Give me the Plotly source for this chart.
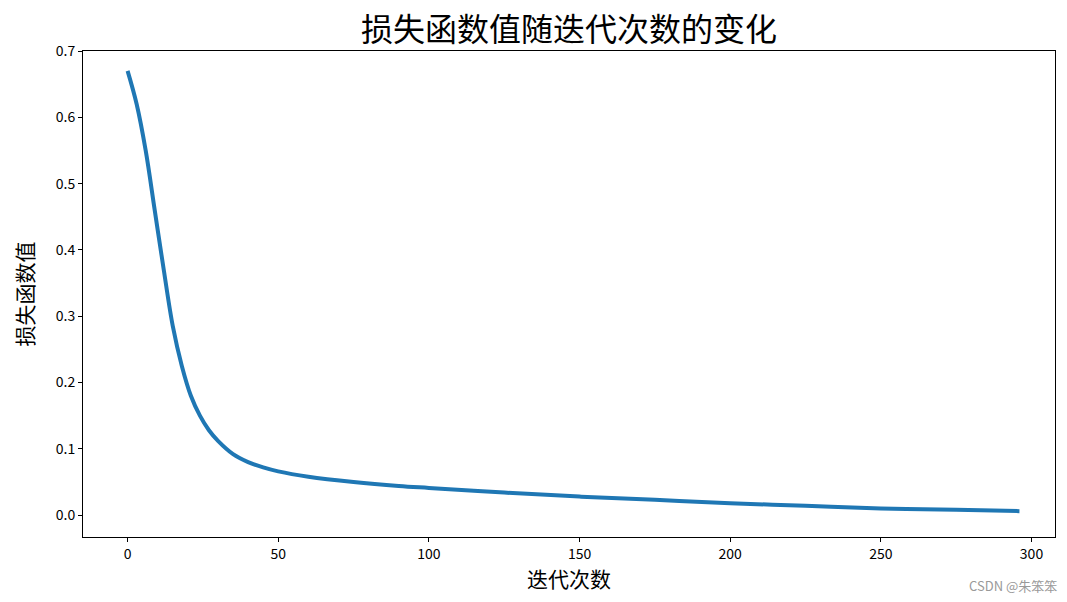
import plotly.graph_objects as go

# 迭代次数与损失函数值
iters = [0, 3, 6, 9, 12, 15, 18, 21, 24, 27, 30, 35, 40, 45, 50, 60, 75, 90, 100, 125, 150, 175, 200, 225, 250, 275, 296]
loss = [0.670, 0.620, 0.550, 0.460, 0.370, 0.285, 0.225, 0.180, 0.150, 0.128, 0.112, 0.092, 0.080, 0.072, 0.066, 0.058, 0.050, 0.044, 0.041, 0.034, 0.028, 0.023, 0.018, 0.014, 0.010, 0.008, 0.006]

xticks = [0, 50, 100, 150, 200, 250, 300]
yticks = [0.0, 0.1, 0.2, 0.3, 0.4, 0.5, 0.6, 0.7]

font = "Noto Sans CJK SC, sans-serif"

# page puts the figure 8px in from the corner, so margins are shifted by that
L, R, T, B = 75, 20, 43, 73
W, H = 1067, 602
pw, ph = W - L - R, H - T - B

fig = go.Figure()
fig.add_trace(go.Scatter(x=iters, y=loss, mode="lines", line=dict(color="#1f77b4", width=4, shape="spline")))

axis = dict(showline=True, linecolor="black", linewidth=1, mirror=True, ticks="outside",
            ticklen=4, tickcolor="black", showgrid=False, zeroline=False, automargin=False,
            tickfont=dict(size=14, color="black", family=font))
fig.update_xaxes(axis, range=[-14.8, 307.8], tickvals=xticks,
                 title=dict(text="迭代次数", font=dict(size=21, family=font, color="black"), standoff=6))
fig.update_yaxes(axis, range=[-0.033, 0.70], tickvals=yticks, tickformat=".1f",
                 title=dict(text="损失函数值", font=dict(size=21, family=font, color="black"), standoff=16))

fig.update_layout(
    width=W, height=H, showlegend=False,
    paper_bgcolor="white", plot_bgcolor="white",
    margin=dict(l=L, r=R, t=T, b=B, autoexpand=False),
    title=dict(text="损失函数值随迭代次数的变化", x=(L + pw / 2) / W, xanchor="center", y=1 - 22 / H, yanchor="middle",
               font=dict(size=32, family=font, color="black"), automargin=False),
    annotations=[dict(text="CSDN @朱笨笨", xref="paper", yref="paper", x=1 + 4 / pw, y=-48 / ph,
                      xanchor="right", yanchor="middle", showarrow=False,
                      font=dict(size=13, family=font, color="#999"))],
)

fig.write_html("out.html")
